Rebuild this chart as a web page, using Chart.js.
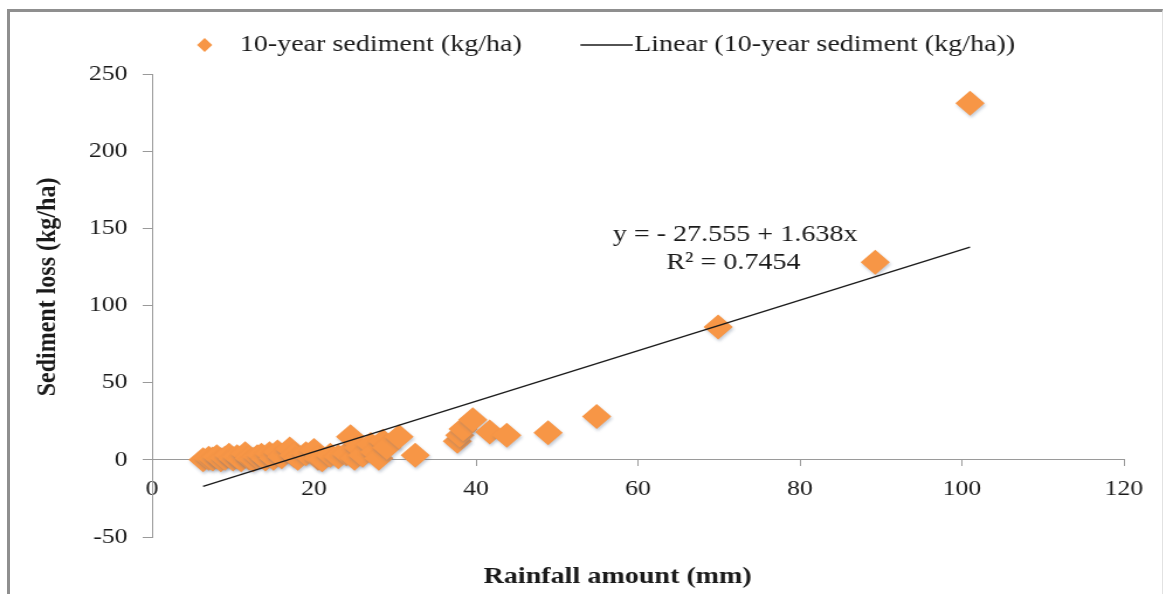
<!DOCTYPE html>
<html lang="en">
<head>
<meta charset="UTF-8">
<title>Sediment loss vs rainfall</title>
<script src="https://cdn.jsdelivr.net/npm/chart.js@4.4.0/dist/chart.umd.min.js"></script>
<style>
  html, body { margin: 0; padding: 0; background: #fff; overflow: hidden; }
  #wrap { position: relative; width: 1173px; height: 594px; }
  #graph { position: absolute; left: 0; top: 0; }
  #frame { position: absolute; left: 7px; top: 9px; width: 1152px; height: 620px;
           border-top: 3px solid #8f8f8f; border-left: 3px solid #8f8f8f;
           border-right: 1px solid #e2e2e2; pointer-events: none; }
</style>
</head>
<body>
<div id="wrap">
  <!-- the original figure is stretched sideways, so the canvas is drawn narrower and widened by css -->
  <canvas id="graph" width="1003" height="594" style="width:1173px;height:594px"></canvas>
  <div id="frame"></div>
</div>

<script>
// rainfall (mm) and 10-year sediment (kg/ha)
const rainfall = [6.3, 7, 7.5, 8, 8.5, 9, 9.5, 10, 10.5, 11, 11.5, 12, 12.5, 13, 13.5, 14, 14.5, 15, 15.5, 16,
                  17, 17.5, 18, 19, 20, 20.5, 21, 22, 23, 24, 24.5, 25, 25.5, 26, 27, 27.5, 28, 28.5, 29, 30.5,
                  32.5, 37.7, 38, 38.4, 39.6, 41.7, 43.8, 48.9, 54.9, 69.9, 89.3, 101];
const sediment = [0, 1, 0.5, 2, 0, 1, 3, 0.5, 2, 0, 4, 1, 0, 2, 3, 0.5, 4, 1, 5, 2,
                  7, 3, 1, 4, 6, 1, 0, 3, 2, 4, 15, 1, 8, 3, 10, 5, 1, 12, 8, 15,
                  3, 12, 16, 20, 26, 18, 16, 17.5, 28, 86, 128, 231];

// fitted line as printed on the chart
const intercept = -27.555;
const slope = 1.638;
const equationText = 'y = - 27.555 + 1.638x';
const r2Text = 'R² = 0.7454';

const seriesName = '10-year sediment (kg/ha)';
const trendName = 'Linear (10-year sediment (kg/ha))';
const xTitle = 'Rainfall amount (mm)';
const yTitle = 'Sediment loss (kg/ha)';

const orange = '#F79646';
const axisGray = '#9a9a9a';
const ink = '#1a1a1a';
const serif = 'Liberation Serif';

const points = rainfall.map((r, i) => ({ x: r, y: sediment[i] }));
const xMin = Math.min(...rainfall), xMax = Math.max(...rainfall);
const trend = [xMin, xMax].map(r => ({ x: r, y: intercept + slope * r }));

// little legend symbols, Excel style
function legendMark(kind) {
    const c = document.createElement('canvas');
    c.width = kind === 'blank' ? 1 : 58;
    c.height = kind === 'blank' ? 1 : 18;
    const g = c.getContext('2d');
    if (kind === 'diamond') {
        g.fillStyle = orange;
        g.beginPath();
        g.moveTo(29, 2); g.lineTo(35.5, 9); g.lineTo(29, 16); g.lineTo(22.5, 9);
        g.closePath(); g.fill();
    } else if (kind === 'line') {
        g.strokeStyle = ink; g.lineWidth = 1.3;
        g.beginPath(); g.moveTo(13, 9); g.lineTo(58, 9); g.stroke();
    }
    return c;
}
const markDiamond = legendMark('diamond');
const markLine = legendMark('line');
const markBlank = legendMark('blank');

// equation box and the two axis titles (the figure does not centre them on the plot)
const chartTexts = {
    id: 'chartTexts',
    afterDatasetsDraw(chart) {
        const { ctx, scales: { x, y } } = chart;
        ctx.save();
        ctx.fillStyle = ink;
        ctx.textAlign = 'center';
        ctx.textBaseline = 'middle';
        ctx.font = `24px "${serif}"`;
        ctx.fillText(equationText, x.getPixelForValue(72), y.getPixelForValue(146));
        ctx.fillText(r2Text, x.getPixelForValue(71.8), y.getPixelForValue(128));

        ctx.font = `bold 24px "${serif}"`;
        ctx.fillText(xTitle, x.getPixelForValue(57.5), chart.height - 17);
        ctx.translate(41, y.getPixelForValue(112));
        ctx.rotate(-Math.PI / 2);
        ctx.fillText(yTitle, 0, 0);
        ctx.restore();
    }
};

const markerShadow = {
    id: 'markerShadow',
    beforeDatasetDraw(chart, args) {
        if (args.index !== 0) return;
        const c = chart.ctx;
        c.save();
        c.shadowColor = 'rgba(90,110,140,0.35)';
        c.shadowBlur = 3;
        c.shadowOffsetX = 1;
        c.shadowOffsetY = 2;
    },
    afterDatasetDraw(chart, args) {
        if (args.index === 0) chart.ctx.restore();
    }
};

const tickFont = { family: serif, size: 22 };

new Chart(document.getElementById('graph'), {
    type: 'scatter',
    data: {
        datasets: [{
            label: seriesName,
            data: points,
            xAxisID: 'x',
            order: 2,
            pointStyle: 'rectRot',
            pointRadius: 12.5,
            pointHoverRadius: 12.5,
            backgroundColor: orange,
            borderWidth: 0
        }, {
            label: trendName,
            data: trend,
            xAxisID: 'x',
            order: 1,
            showLine: true,
            pointRadius: 0,
            borderColor: ink,
            borderWidth: 1.4,
            backgroundColor: ink
        }]
    },
    options: {
        responsive: false,
        devicePixelRatio: 1,
        animation: false,
        layout: { padding: { top: 33, right: 42, bottom: 57, left: 0 } },
        plugins: {
            tooltip: { enabled: false },
            legend: {
                position: 'top',
                fullSize: false,
                labels: {
                    usePointStyle: true,
                    pointStyleWidth: 36,
                    padding: 0,
                    color: ink,
                    font: { family: serif, size: 24 },
                    generateLabels(chart) {
                        const items = Chart.defaults.plugins.legend.labels.generateLabels(chart);
                        const sc = items.find(it => it.datasetIndex === 0);
                        const ln = items.find(it => it.datasetIndex === 1);
                        sc.pointStyle = markDiamond;
                        ln.pointStyle = markLine;
                        // empty entries used only as gaps, like the Excel legend spacing
                        const spacer = t => ({ text: t, pointStyle: markBlank, fillStyle: 'rgba(0,0,0,0)',
                                               strokeStyle: 'rgba(0,0,0,0)', lineWidth: 0, hidden: false });
                        return [sc, spacer(''), ln, spacer('\u00a0\u00a0\u00a0')];
                    }
                }
            }
        },
        scales: {
            x: {
                type: 'linear',
                axis: 'x',
                position: { y: 0 },
                min: 0,
                max: 120,
                ticks: { stepSize: 20, color: ink, font: tickFont, padding: 10 },
                grid: { display: true, drawOnChartArea: false, drawTicks: true, tickLength: 6, color: axisGray },
                border: { display: true, color: axisGray, width: 1 }
            },
            y: {
                type: 'linear',
                position: 'left',
                min: -50,
                max: 250,
                ticks: { stepSize: 50, color: ink, font: tickFont, padding: 13 },
                grid: { display: true, drawOnChartArea: false, drawTicks: true, tickLength: 8, color: axisGray },
                border: { display: true, color: axisGray, width: 1 },
                afterFit(s) { s.width = 130; }
            },
            topGap: {
                type: 'linear',
                axis: 'x',
                position: 'top',
                min: 0,
                max: 120,
                ticks: { display: false },
                grid: { display: false },
                border: { display: false },
                afterFit(s) { s.height = 7; }
            }
        }
    },
    plugins: [markerShadow, chartTexts]
});
</script>
</body>
</html>
